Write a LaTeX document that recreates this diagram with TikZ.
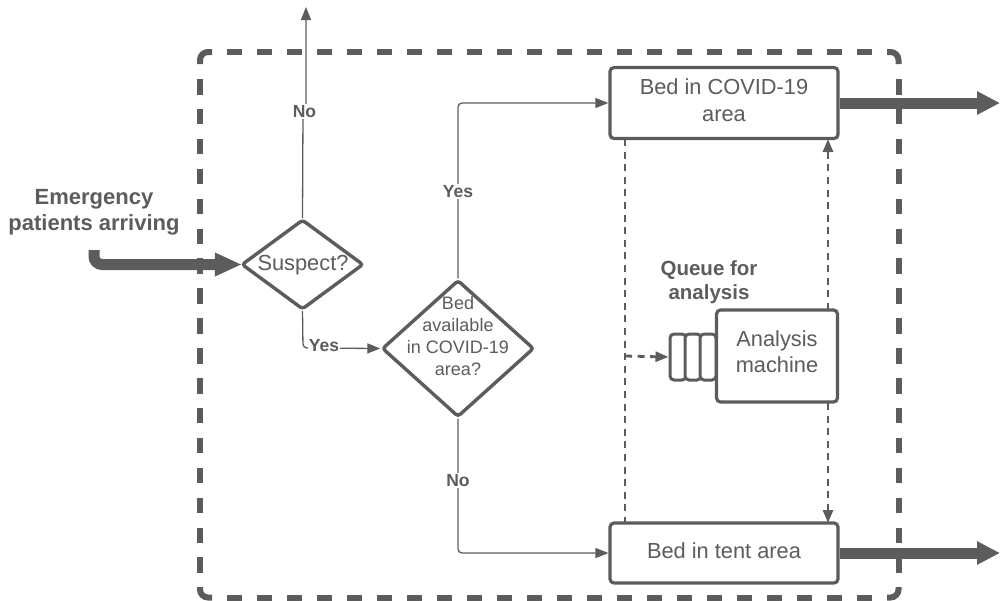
\documentclass[tikz,border=0pt]{standalone}
\usepackage{fontspec}
\setmainfont{Liberation Sans}
\usetikzlibrary{shapes.geometric,arrows.meta,calc}
\definecolor{ink}{HTML}{5C5C5C}
\newcommand\lift[2]{\raisebox{#1}[\height][\depth]{\begin{tabular}{@{}c@{}}#2\end{tabular}}}
\tikzset{
 box/.style={draw=ink,line width=3.2pt,rounded corners=4pt,fill=white,text=ink,align=center,inner sep=0pt,font=\fontsize{21.8}{27}\selectfont},
 dia/.style={draw=ink,line width=3.4pt,fill=white,text=ink,align=center,inner sep=0pt,diamond,rounded corners=3pt},
 qbox/.style={draw=ink,line width=3pt,fill=white,rounded corners=4pt,minimum width=16pt,minimum height=46pt,inner sep=0pt},
 lab/.style={fill=white,text=ink,font=\bfseries\fontsize{17.5}{21}\selectfont,inner sep=1pt},
 head/.style={text=ink,font=\bfseries\fontsize{22}{26}\selectfont,align=center,inner sep=0pt},
 flow/.style={draw=ink,line width=1.3pt,rounded corners=4pt,-{Triangle[length=13pt,width=10pt]}},
 dashline/.style={draw=ink,line width=2.8pt,dash pattern=on 7pt off 5.6pt},
 dasharrow/.style={dashline,-{Triangle[length=13pt,width=10pt]}},
 fat/.style={draw=ink,line width=11pt,-{Triangle[length=23pt,width=22pt,inset=0pt]}},
 frame/.style={draw=ink,line width=6pt,dash pattern=on 15pt off 15pt},
 framecorner/.style={draw=ink,line width=6pt,rounded corners=8pt},
}
\begin{document}
\begin{tikzpicture}[x=1pt,y=-1pt]
\useasboundingbox (0,0) rectangle (1000,600);
% dashed frame
\draw[framecorner] (212,52) -- (200,52) -- (200,64);
\draw[framecorner] (887,52) -- (898.5,52) -- (898.5,64);
\draw[framecorner] (200,587) -- (200,597.5) -- (212,597.5);
\draw[framecorner] (898.5,587) -- (898.5,597.5) -- (887,597.5);
\draw[frame] (227,52) -- (880,52);
\draw[frame] (227,597.5) -- (880,597.5);
\draw[frame,dash pattern=on 15.5pt off 14.4pt] (200,79) -- (200,578);
\draw[frame,dash pattern=on 15.5pt off 14.4pt] (898.5,79) -- (898.5,578);
\coordinate (inA) at (94,250);
\coordinate (topEnd) at (306,7);
\coordinate (topJog) at (306,111);
\coordinate (topJogB) at (303,111);
\coordinate (outA) at (1000,103);
\coordinate (outB) at (1000,553);
\coordinate (qIn) at (625,356);
\coordinate (c1) at (625,139);
\coordinate (c2) at (625,523);
\coordinate (m1) at (828,310);
\coordinate (m2) at (828,139);
\coordinate (m3) at (828,403);
\coordinate (m4) at (828,523);
\draw[dashline] (c1) -- (c2);
\draw[dasharrow] (m1) -- (m2);
\draw[dasharrow] (m3) -- (m4);
\node[box,minimum width=228pt,minimum height=71pt] (covid) at (724,103) {\lift{0pt}{Bed in COVID-19\\area}};
\node[box,minimum width=228pt,minimum height=60pt] (tent) at (724,553) {\lift{0pt}{Bed in tent area}};
\node[qbox] (q1) at (678,357) {};
\node[qbox] (q2) at (693,357) {};
\node[qbox] (q3) at (708,357) {};
\node[box,minimum width=121pt,minimum height=92pt,font=\fontsize{21.8}{26}\selectfont] (mach) at (777,356) {\lift{2pt}{Analysis\\machine}};
\node[dia,minimum width=122pt,minimum height=90pt] (sus) at (302.5,264.5) {};
\node[text=ink,font=\fontsize{21.8}{25}\selectfont,inner sep=0pt] (suslab) at (303,265.5) {Suspect?};
\node[dia,minimum width=152pt,minimum height=137pt,aspect=1.1] (bed) at (458,348.5) {};
\node[text=ink,align=center,font=\fontsize{18}{22}\selectfont,inner sep=0pt] (bedlab) at (458,336.5) {Bed\\available\\in COVID-19\\area?};
\node[head] (er) at (94,212) {Emergency\\patients arriving};
\node[head,font=\bfseries\fontsize{20.5}{24}\selectfont] (queue) at (709,282) {Queue for\\analysis};
\draw[fat,rounded corners=8pt,shorten >=-2pt,-{Triangle[length=27pt,width=22pt,inset=0pt]}] (inA) -- (94,264.5) -- (sus.west);
\draw[fat] (covid.east) -- (outA);
\draw[fat] (tent.east) -- (outB);
\draw[flow,rounded corners=0pt] (sus.north) -- (topJogB) -- (topJog) -- (topEnd);
\node[lab] (no1) at (304.5,111.5) {No};
\draw[flow] (sus.south) -- (303,348) -- (bed.west);
\node[lab] (yes1) at (324,346) {Yes};
\draw[flow] (bed.north) -- (458,103) -- (covid.west);
\node[lab] (yes2) at (458,191.5) {Yes};
\draw[flow] (bed.south) -- (458,553) -- (tent.west);
\node[lab] (no2) at (458,480.5) {No};
\draw[dasharrow] (qIn) -- (q1.west);
\end{tikzpicture}
\end{document}
